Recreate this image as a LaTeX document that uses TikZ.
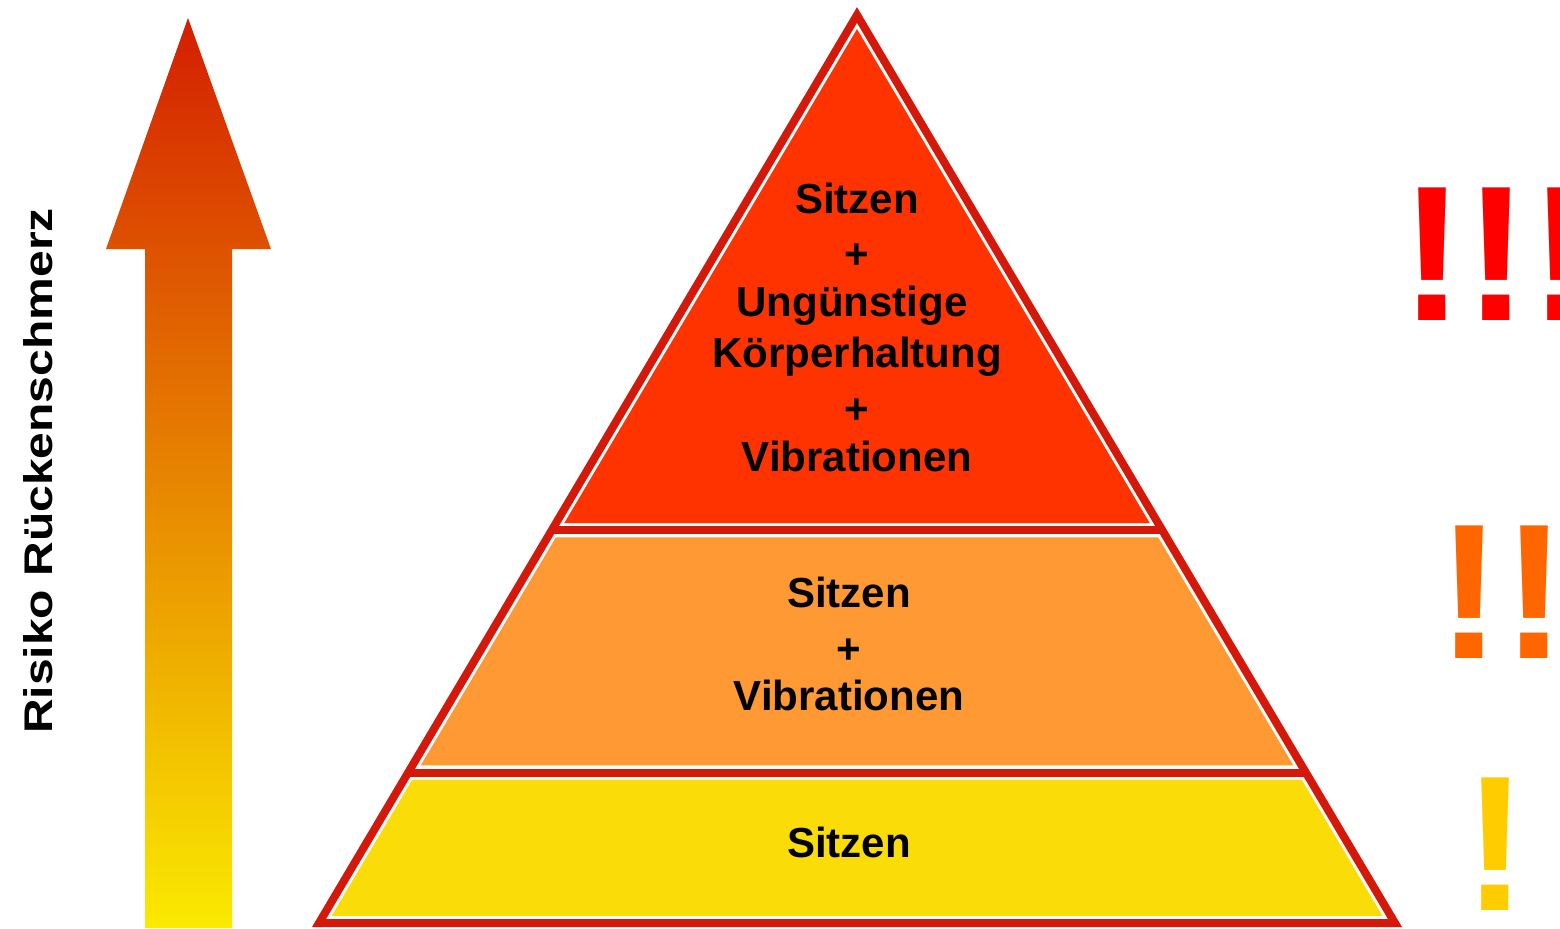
\documentclass[tikz,border=0pt]{standalone}
\usepackage{fontspec}
\setmainfont{Liberation Sans}
\usepackage{tikz}
\usetikzlibrary{calc}
\definecolor{rimred}{HTML}{D4190A}
\definecolor{topred}{HTML}{FF3300}
\definecolor{midorange}{HTML}{FF9933}
\definecolor{baseyellow}{HTML}{F9DC08}
\definecolor{arrowtop}{HTML}{D41E00}
\definecolor{arrowbottom}{HTML}{FAEA00}
\tikzset{layer/.style = {draw=white, line width=7pt, line join=miter}}
\tikzset{rim/.style = {draw=rimred, line width=4pt, line join=miter}}
\tikzset{layertext/.style = {align=center, text=black, font=\bfseries\fontsize{21}{25.8}\selectfont}}
\tikzset{bang/.style = {anchor=base, font=\bfseries\fontsize{96.4}{96}\selectfont}}
\newcommand{\plusline}{\raisebox{-2pt}{+}}

\begin{document}
\begin{tikzpicture}[x=0.5pt, y=-0.5pt]
        \useasboundingbox (0,0) rectangle (1560,928);
        \clip (0,0) rectangle (1560,928);
        % pyramid corners and layer borders
        \coordinate (apex) at (857,15);
        \coordinate (bl) at (319,923);
        \coordinate (br) at (1395,923);
        \coordinate (l1) at ($(apex)!0.5677!(bl)$);
        \coordinate (r1) at ($(apex)!0.5677!(br)$);
        \coordinate (l2) at ($(apex)!0.8343!(bl)$);
        \coordinate (r2) at ($(apex)!0.8343!(br)$);
        \filldraw [layer, fill=topred] (apex) -- (r1) -- (l1) -- cycle;
        \filldraw [layer, fill=midorange] (l1) -- (r1) -- (r2) -- (l2) -- cycle;
        \filldraw [layer, fill=baseyellow] (l2) -- (r2) -- (br) -- (bl) -- cycle;
        \draw [rim] (apex) -- (br) -- (bl) -- cycle;
        \draw [rim] (l1) -- (r1) (l2) -- (r2);
        \node [layertext] (tiptext) at (857,327) {Sitzen\\\plusline\\Ungünstige\kern5pt\\Körperhaltung\\\plusline\\Vibrationen};
        \node [layertext] (midtext) at (849,644) {Sitzen\\\plusline\\Vibrationen};
        \node [layertext] (basetext) at (849,842) {Sitzen};
        % risk arrow
        \shade [top color=arrowtop, bottom color=arrowbottom] (188,18) -- (271,249) -- (232,249) -- (232,928) -- (145,928) -- (145,249) -- (106,249) -- cycle;
        \node [rotate=90, font=\bfseries\fontsize{20}{24}\selectfont] (risk) at (38.5,471) {\scalebox{1.2}[1]{Risiko Rückenschmerz}};
        \node [bang, text=red] (bang3) at (1497,320) {!!!};
        \node [bang, text={rgb,255:red,255;green,102;blue,0}] (bang2) at (1502,658) {!!};
        \node [bang, text={rgb,255:red,255;green,204;blue,0}] (bang1) at (1496,910) {!};
    \end{tikzpicture}
\end{document}
